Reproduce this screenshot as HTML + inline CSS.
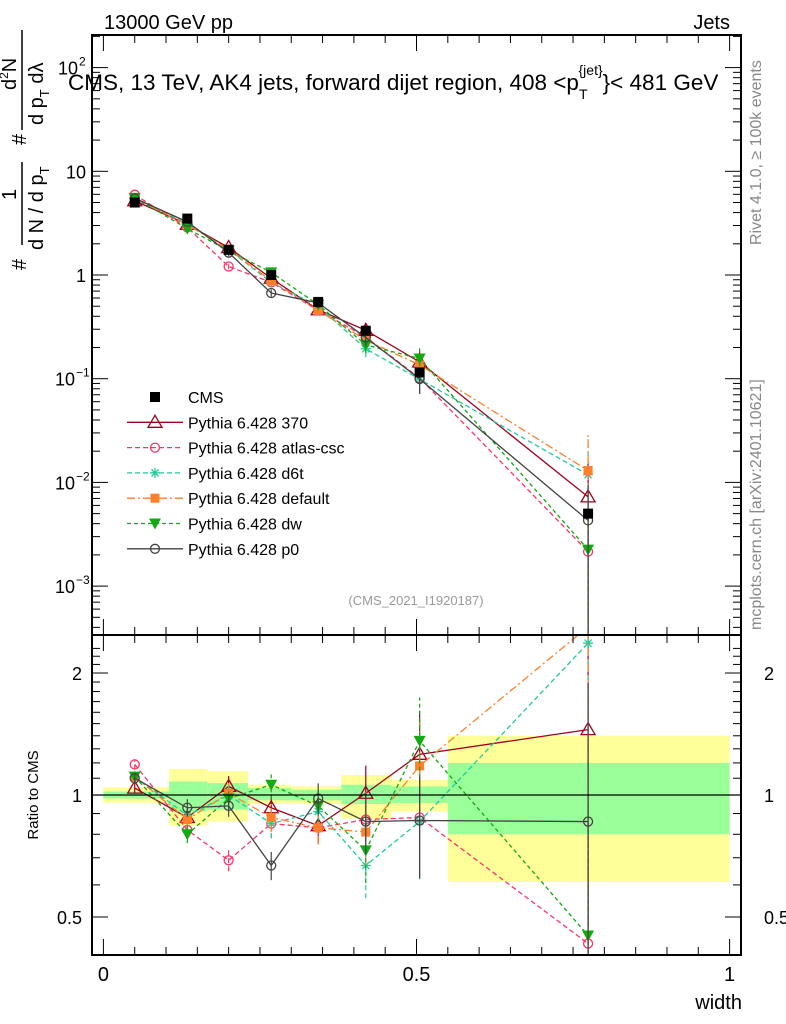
<!DOCTYPE html>
<html><head><meta charset="utf-8"><style>
html,body{margin:0;padding:0;background:#fff;overflow:hidden;width:786px;height:1024px;}
svg{display:block;}
svg text{font-family:"Liberation Sans",sans-serif;}
</style></head><body>
<svg id="chart" width="786" height="1024" viewBox="0 0 786 1024" xmlns="http://www.w3.org/2000/svg">
<g id="bands"></g>
<g id="plot"></g>
<g id="axes"></g>
<g id="legend"></g>
<text x="104" y="29" font-size="20">13000 GeV pp</text>
<text x="730" y="29" font-size="20" text-anchor="end">Jets</text>
<text x="68" y="90" font-size="22.5">CMS, 13 TeV, AK4 jets, forward dijet region, 408 &lt;p<tspan font-size="14" dy="9">T</tspan><tspan font-size="14" dx="-9" dy="-24">{jet}</tspan><tspan dy="15">}&lt; 481 GeV</tspan></text>
<text x="416" y="605" font-size="13" fill="#999" text-anchor="middle">(CMS_2021_I1920187)</text>
<text transform="translate(761,245) rotate(-90)" font-size="16" fill="#888">Rivet 4.1.0, ≥ 100k events</text>
<text transform="translate(761,630) rotate(-90)" font-size="16" fill="#888">mcplots.cern.ch [arXiv:2401.10621]</text>
<g font-size="20">
<text transform="translate(26,270) rotate(-90)">#</text>
<text transform="translate(16,200) rotate(-90)">1</text>
<line x1="22" y1="245" x2="22" y2="162" stroke="#000" stroke-width="1.5"/>
<text transform="translate(43,250) rotate(-90)">d N / d p<tspan font-size="13" dy="6">T</tspan></text>
<text transform="translate(26,145) rotate(-90)">#</text>
<text transform="translate(16,90) rotate(-90)">d<tspan font-size="12" dy="-8">2</tspan><tspan dy="8">N</tspan></text>
<line x1="22" y1="130" x2="22" y2="30" stroke="#000" stroke-width="1.5"/>
<text transform="translate(43,125) rotate(-90)">d p<tspan font-size="13" dy="6">T</tspan><tspan dy="-6"> dλ</tspan></text>
</g>
<text transform="translate(38,795) rotate(-90)" font-size="15" text-anchor="middle">Ratio to CMS</text>
<text x="742" y="1009" font-size="20" text-anchor="end">width</text>
</svg>
<script>
const xs=[0.05,0.134,0.2,0.268,0.343,0.419,0.505,0.774];
const binEdges=[0,0.105,0.166,0.231,0.3,0.38,0.46,0.55,1.0];
const cms=[5.0,3.5,1.75,1.0,0.55,0.29,0.115,0.005];
const bandYelHi=[1.045,1.16,1.145,1.06,1.05,1.12,1.09,1.4];
const bandYelLo=[0.957,0.84,0.86,0.95,0.95,0.875,0.91,0.61];
const bandGrnHi=[1.02,1.08,1.07,1.04,1.03,1.06,1.05,1.2];
const bandGrnLo=[0.98,0.91,0.92,0.97,0.97,0.95,0.956,0.8];
const r370=[1.04,0.88,1.05,0.93,0.84,1.01,1.26,1.45];
const rAtlas=[1.19,0.82,0.69,0.85,0.83,0.87,0.88,0.43];
const rD6t=[1.11,0.89,1.0,0.85,0.91,0.67,0.86,2.37];
const rDefault=[1.11,0.87,1.01,0.88,0.83,0.81,1.18,2.6];
const rDw=[1.11,0.80,0.98,1.06,0.94,0.73,1.36,0.45];
const rP0=[1.10,0.93,0.94,0.67,0.98,0.86,0.865,0.86];
const mcRelErr=[0.03,0.05,0.06,0.08,0.09,0.17,0.28,1.2];
const yTicksMain=[2,1,0,-1,-2,-3];
const ratioTicks=[0.5,1,2];
const xTicks=[0,0.5,1];

const NS="http://www.w3.org/2000/svg";
const L=92,R=741,T=35,MB=635,RB=955;
const X=v=>103.4+v*626.2;
const YM=v=>275-103.7*Math.log10(v);
const YR=v=>795-122*Math.log2(v);
const clampM=y=>Math.max(T-5,Math.min(MB+5,y));
const clampR=y=>Math.max(MB-5,Math.min(RB+5,y));
function mk(tag,at,parent){const e=document.createElementNS(NS,tag);for(const k in at)e.setAttribute(k,at[k]);parent.appendChild(e);return e;}
const bands=document.getElementById('bands'),plot=document.getElementById('plot'),axes=document.getElementById('axes'),leg=document.getElementById('legend');

for(let i=0;i<xs.length;i++){
 let b=mk('rect',{x:X(binEdges[i]),y:YR(bandYelHi[i]),width:X(binEdges[i+1])-X(binEdges[i]),height:YR(bandYelLo[i])-YR(bandYelHi[i]),fill:'#ffff99'},bands);
 
 
 let g=mk('rect',{x:X(binEdges[i]),y:YR(bandGrnHi[i]),width:X(binEdges[i+1])-X(binEdges[i]),height:YR(bandGrnLo[i])-YR(bandGrnHi[i]),fill:'#99ff99'},bands);
 
 
}
mk('line',{x1:L,x2:R,y1:YR(1),y2:YR(1),stroke:'#000','stroke-width':1.2},axes);

const defs=mk('defs',{},plot);
const c1=mk('clipPath',{id:'cm'},defs);mk('rect',{x:L,y:T,width:R-L,height:MB-T},c1);
const c2=mk('clipPath',{id:'cr'},defs);mk('rect',{x:L,y:MB,width:R-L,height:RB-MB},c2);
const gm=mk('g',{'clip-path':'url(#cm)'},plot);
const gr=mk('g',{'clip-path':'url(#cr)'},plot);

function marker(g,type,x,y,col){
 const s=5;
 if(type==='sq')mk('rect',{x:x-5,y:y-5,width:10,height:10,fill:col},g);
 else if(type==='tri')mk('polygon',{points:`${x},${y-7} ${x-7},${y+5} ${x+7},${y+5}`,fill:'none',stroke:col,'stroke-width':1.3},g);
 else if(type==='circ')mk('circle',{cx:x,cy:y,r:4.5,fill:'none',stroke:col,'stroke-width':1.3},g);
 else if(type==='star'){for(let a=0;a<4;a++){const an=a*Math.PI/4;mk('line',{x1:x-s*Math.cos(an),y1:y-s*Math.sin(an),x2:x+s*Math.cos(an),y2:y+s*Math.sin(an),stroke:col,'stroke-width':1.3},g);}}
 else if(type==='fsq')mk('rect',{x:x-4.5,y:y-4.5,width:9,height:9,fill:col},g);
 else if(type==='dtri')mk('polygon',{points:`${x},${y+6} ${x-6},${y-5} ${x+6},${y-5}`,fill:col},g);
}
const series=[
 {name:'Pythia 6.428 370',r:r370,col:'#a0001e',dash:'',m:'tri'},
 {name:'Pythia 6.428 atlas-csc',r:rAtlas,col:'#ff3366',dash:'5,3',m:'circ'},
 {name:'Pythia 6.428 d6t',r:rD6t,col:'#1fcc99',dash:'5,3',m:'star'},
 {name:'Pythia 6.428 default',r:rDefault,col:'#ff7f2a',dash:'8,3,2,3',m:'fsq'},
 {name:'Pythia 6.428 dw',r:rDw,col:'#11aa11',dash:'4,3',m:'dtri'},
 {name:'Pythia 6.428 p0',r:rP0,col:'#444444',dash:'',m:'circ'}
];
series.forEach((s,si)=>{
 const gM=mk('g',{},gm);
 
 
 const gR=mk('g',{},gr);
 
 
 const vals=s.r.map((r,i)=>r*cms[i]);
 mk('polyline',{points:xs.map((x,i)=>X(x)+','+YM(vals[i])).join(' '),fill:'none',stroke:s.col,'stroke-width':1.3,'stroke-dasharray':s.dash},gM);
 mk('polyline',{points:xs.map((x,i)=>X(x)+','+YR(s.r[i])).join(' '),fill:'none',stroke:s.col,'stroke-width':1.3,'stroke-dasharray':s.dash},gR);
 xs.forEach((x,i)=>{
  const e=mcRelErr[i];
  const lo=Math.max(vals[i]*(1-e),1e-6),hi=vals[i]*(1+e);
  mk('line',{x1:X(x),x2:X(x),y1:clampM(YM(lo)),y2:clampM(YM(hi)),stroke:s.col,'stroke-width':1.2,'stroke-dasharray':s.dash},gM);
  mk('line',{x1:X(x),x2:X(x),y1:clampR(YR(Math.max(s.r[i]*(1-e),1e-3))),y2:clampR(YR(s.r[i]*(1+e))),stroke:s.col,'stroke-width':1.2,'stroke-dasharray':s.dash},gR);
  marker(gM,s.m,X(x),YM(vals[i]),s.col);
  marker(gR,s.m,X(x),YR(s.r[i]),s.col);
 });
});
const gc=mk('g',{},gm);


xs.forEach((x,i)=>{marker(gc,'sq',X(x),YM(cms[i]),'#000');});

mk('rect',{x:L,y:T,width:R-L,height:MB-T,fill:'none',stroke:'#000','stroke-width':2},axes);
mk('rect',{x:L,y:MB,width:R-L,height:RB-MB,fill:'none',stroke:'#000','stroke-width':2},axes);
for(let d=-4;d<=2;d++){for(let k=1;k<10;k++){const v=k*Math.pow(10,d);const y=YM(v);if(y<T||y>MB)continue;const len=k===1?16:8;
 mk('line',{x1:L,x2:L+len,y1:y,y2:y,stroke:'#000','stroke-width':1},axes);mk('line',{x1:R,x2:R-len,y1:y,y2:y,stroke:'#000','stroke-width':1},axes);}}
yTicksMain.forEach(d=>{const y=YM(Math.pow(10,d))+7;let t;
 if(d===0)t=mk('text',{x:86,y:y,'font-size':18,'text-anchor':'end'},axes),t.textContent='1';
 else if(d===1)t=mk('text',{x:86,y:y,'font-size':18,'text-anchor':'end'},axes),t.textContent='10';
 else {t=mk('text',{x:d<0?75:78,y:y,'font-size':18,'text-anchor':'end'},axes);t.textContent='10';const sp=mk('text',{x:d<0?76:79,y:y-9,'font-size':12},axes);sp.textContent=d<0?('−'+(-d)):String(d);}
 });
for(let v=0.4;v<=2.4;v+=0.1){const y=YR(v);if(y<MB||y>RB)continue;const major=[0.5,1,2].some(m=>Math.abs(m-v)<1e-6);const len=major?16:8;
 mk('line',{x1:L,x2:L+len,y1:y,y2:y,stroke:'#000','stroke-width':1},axes);mk('line',{x1:R,x2:R-len,y1:y,y2:y,stroke:'#000','stroke-width':1},axes);}
ratioTicks.forEach(v=>{const y=YR(v)+7;
 let t=mk('text',{x:82,y:y,'font-size':18,'text-anchor':'end'},axes);t.textContent=String(v);
 let t2=mk('text',{x:764,y:y,'font-size':18,'text-anchor':'start'},axes);t2.textContent=String(v);});
for(let i=0;i<=20;i++){const v=i*0.05;const x=X(v);const major=i%10===0;const len=major?16:8;
 mk('line',{x1:x,x2:x,y1:T,y2:T+len,stroke:'#000','stroke-width':1},axes);
 mk('line',{x1:x,x2:x,y1:RB,y2:RB-len,stroke:'#000','stroke-width':1},axes);
 mk('line',{x1:x,x2:x,y1:MB,y2:MB+len,stroke:'#000','stroke-width':1},axes);
 mk('line',{x1:x,x2:x,y1:MB,y2:MB-len,stroke:'#000','stroke-width':1},axes);}
xTicks.forEach(v=>{let t=mk('text',{x:X(v),y:981,'font-size':20,'text-anchor':'middle'},axes);t.textContent=String(v);});

const items=[{name:'CMS',col:'#000',m:'sq',dash:null}].concat(series);
items.forEach((s,i)=>{const y=397+i*25.3;
 const g=mk('g',{},leg);
 
 
 if(s.dash!==null)mk('line',{x1:127,x2:183,y1:y,y2:y,stroke:s.col,'stroke-width':1.3,'stroke-dasharray':s.dash},g);
 marker(g,s.m,155,y,s.col);
 const t=mk('text',{x:188,y:y+6,'font-size':16},g);t.textContent=s.name;});
</script>
</body></html>
